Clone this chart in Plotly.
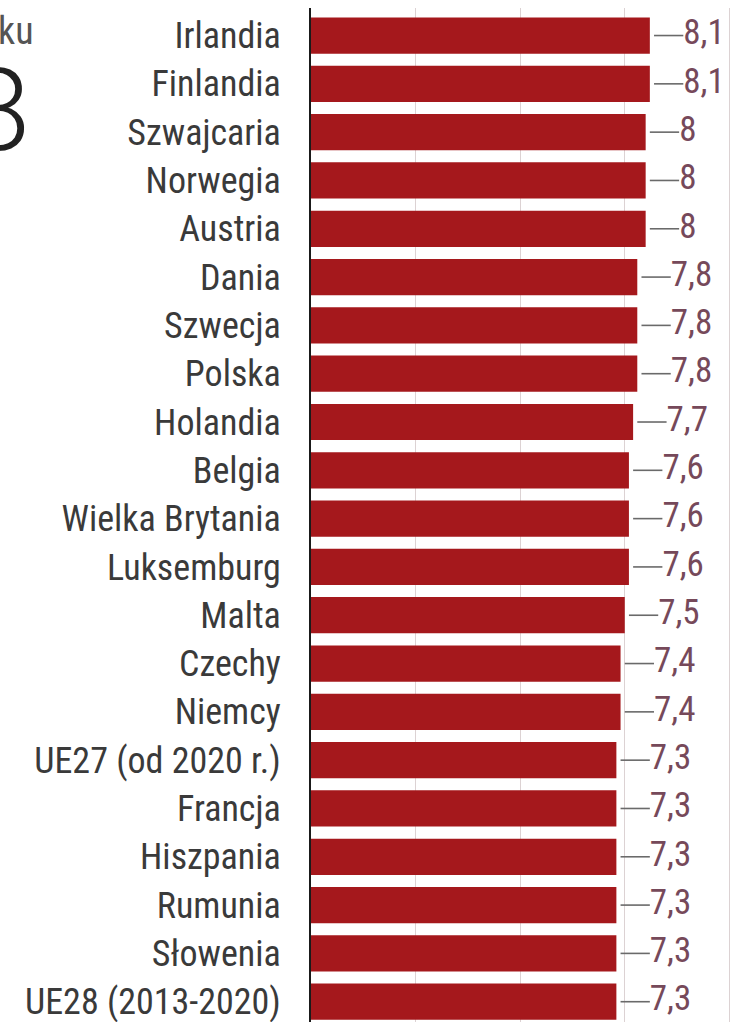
import plotly.graph_objects as go

countries = ["Irlandia", "Finlandia", "Szwajcaria", "Norwegia", "Austria", "Dania",
             "Szwecja", "Polska", "Holandia", "Belgia", "Wielka Brytania", "Luksemburg",
             "Malta", "Czechy", "Niemcy", "UE27 (od 2020 r.)", "Francja", "Hiszpania",
             "Rumunia", "Słowenia", "UE28 (2013-2020)"]
values = [8.1, 8.1, 8.0, 8.0, 8.0, 7.8, 7.8, 7.8, 7.7, 7.6, 7.6, 7.6,
          7.5, 7.4, 7.4, 7.3, 7.3, 7.3, 7.3, 7.3, 7.3]
value_labels = [f"{v:g}".replace(".", ",") for v in values]

FONT = "Roboto Condensed, Liberation Sans Narrow, DejaVu Sans Condensed, Roboto"
W, H = 731, 1022
ML, MT = 311, 8
X_MAX = 10.04

fig = go.Figure()
fig.add_trace(go.Bar(
    x=values, y=countries, orientation="h",
    marker=dict(color="#a5181c", line=dict(width=0)),
    width=0.75, showlegend=False, hoverinfo="skip",
))

# leader lines
lx, ly = [], []
for c, v in zip(countries, values):
    lx += [v + 0.1, v + 0.8, None]
    ly += [c, c, None]
fig.add_trace(go.Scatter(x=lx, y=ly, mode="lines",
                         line=dict(color="#6a6a6a", width=1.6),
                         showlegend=False, hoverinfo="skip", cliponaxis=False))
fig.add_trace(go.Scatter(
    x=[v + 0.8 for v in values], y=countries, mode="text",
    text=value_labels, textposition="middle right",
    textfont=dict(family=FONT, size=35, color="#76495a"),
    showlegend=False, hoverinfo="skip", cliponaxis=False,
))

fig.update_layout(
    width=W, height=H,
    margin=dict(l=ML, r=0, t=MT, b=0, pad=0),
    paper_bgcolor="white", plot_bgcolor="white",
    bargap=0.25,
    xaxis=dict(range=[0, X_MAX], tickvals=[2.5, 5, 7.5, 10], showticklabels=False,
               showgrid=True, gridcolor="#dcd2d3", gridwidth=1, zeroline=False,
               showline=False, fixedrange=True),
    yaxis=dict(type="category", categoryorder="array", categoryarray=countries,
               range=[20.42, -0.57], showgrid=False, zeroline=False,
               showline=True, linecolor="#1a1a1a", linewidth=2,
               ticks="", ticklabelstandoff=21,
               tickfont=dict(family=FONT, size=36, color="#3a3a3a")),
    annotations=[
        dict(text="ku", xref="paper", yref="paper",
             x=(36 - ML) / (W - ML), y=1 - (31 - MT) / (H - MT),
             xanchor="right", yanchor="middle", showarrow=False,
             font=dict(family=FONT, size=38, color="#555555")),
        dict(text="8", xref="paper", yref="paper",
             x=(32 - ML) / (W - ML), y=1 - (111 - MT) / (H - MT),
             xanchor="right", yanchor="middle", showarrow=False,
             font=dict(family="Roboto", size=115, color="#222222", weight=300)),
    ],
)

fig.write_html("out.html", config={"displayModeBar": False},
               post_script="document.body.style.margin='0px';")
